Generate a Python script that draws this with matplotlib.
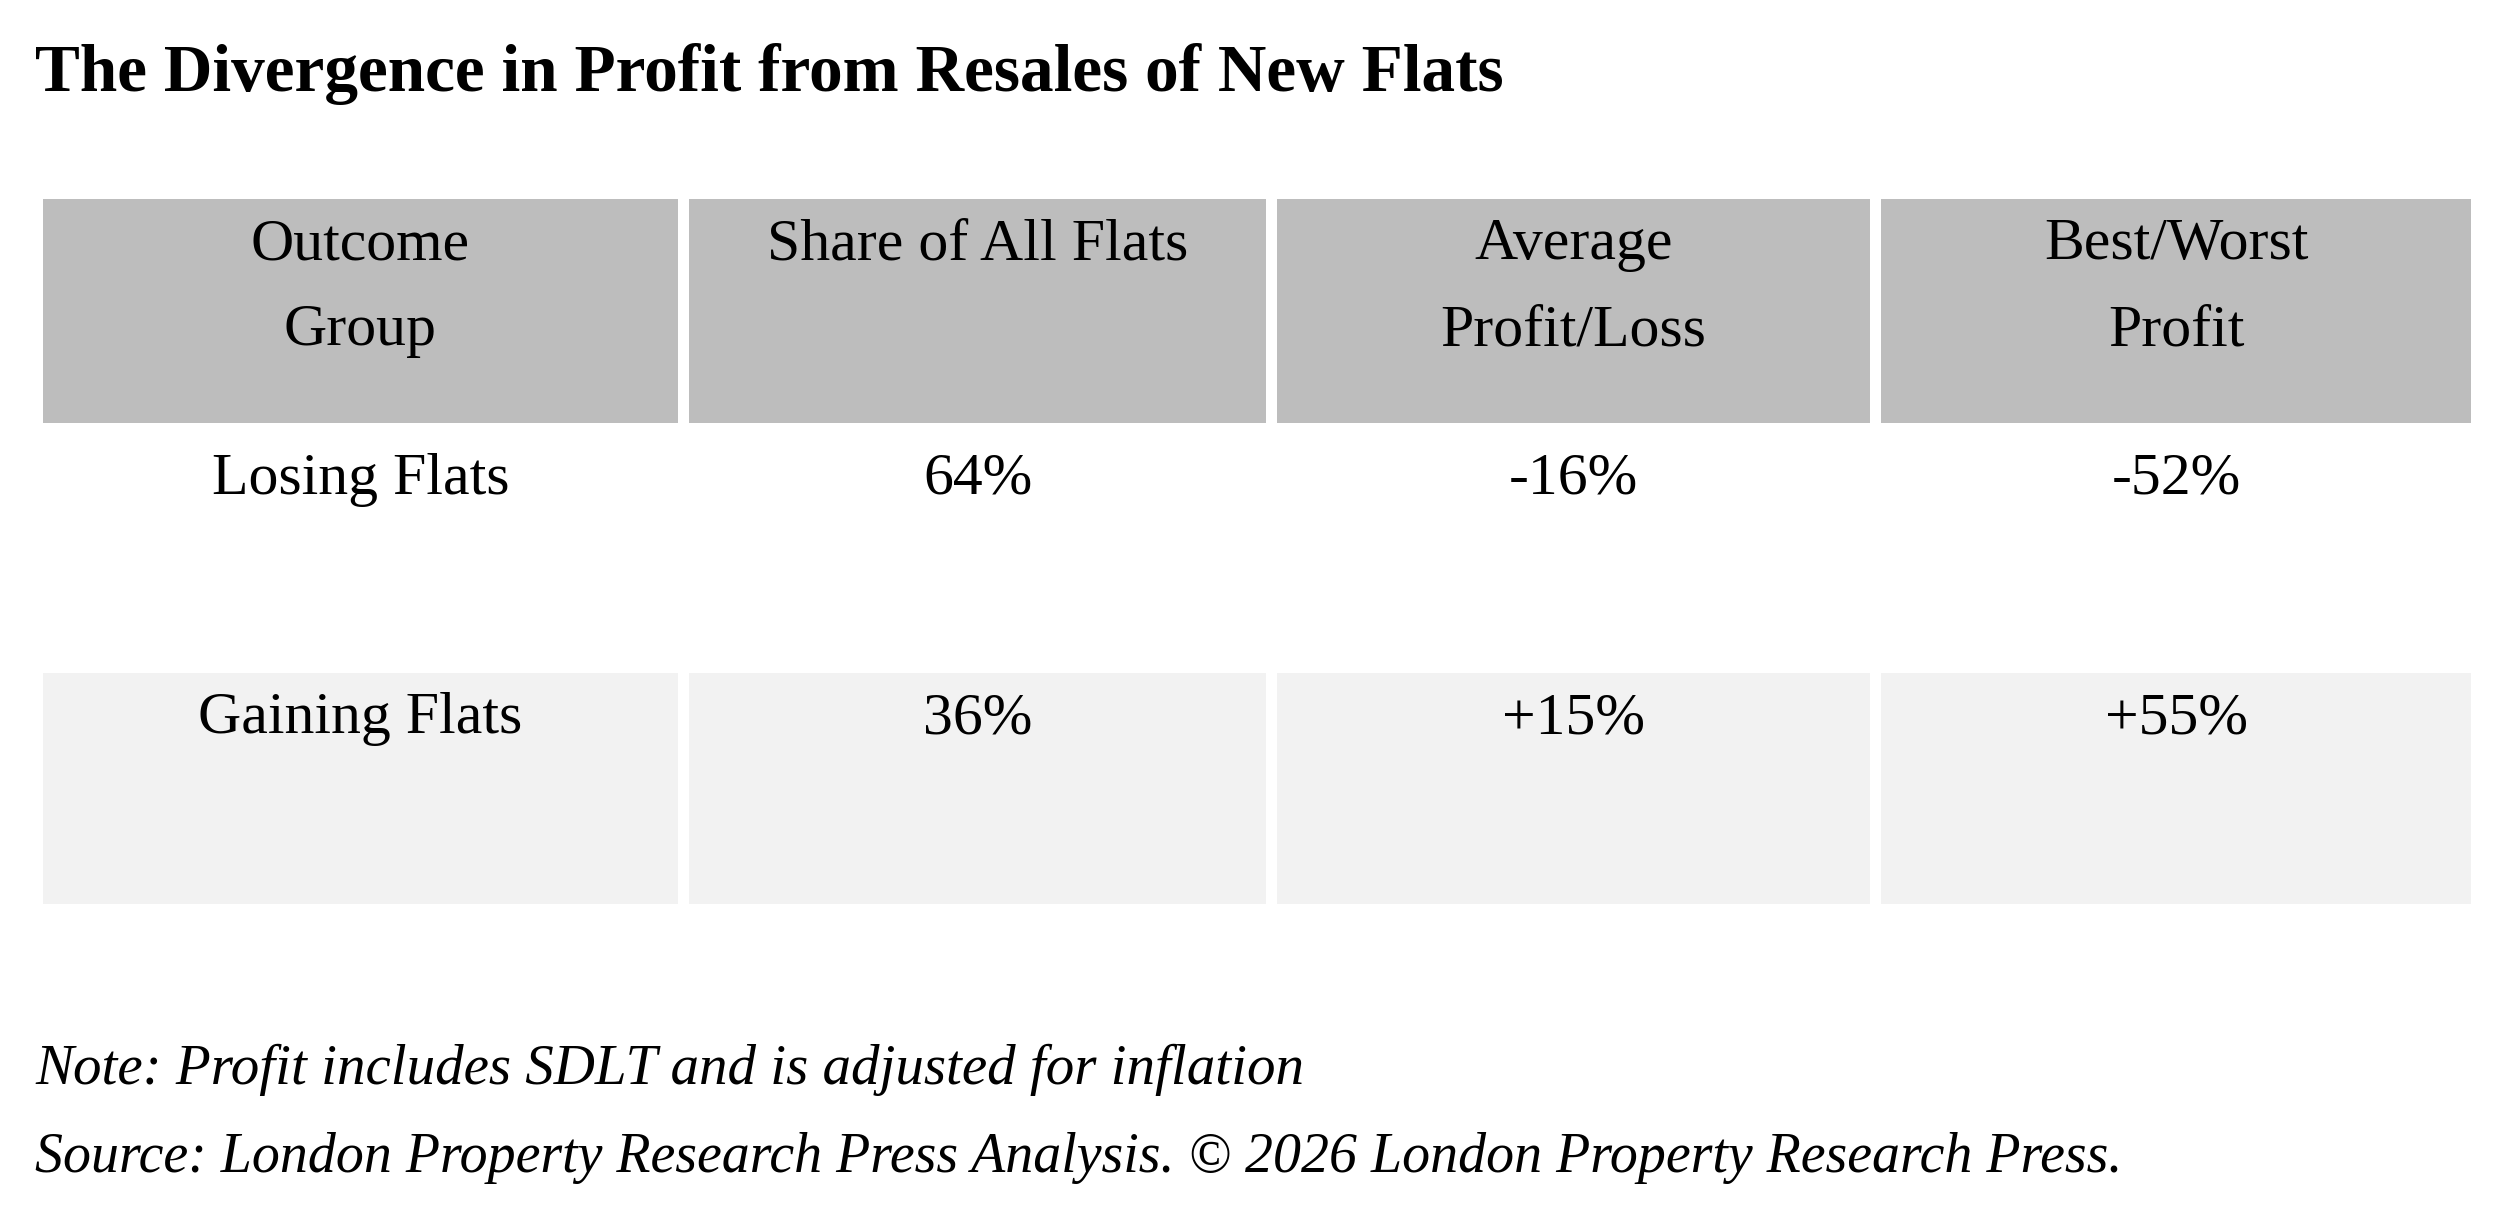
import matplotlib
matplotlib.use('Agg')
import matplotlib.pyplot as plt
from matplotlib.patches import Rectangle

# table content
headers = ['Outcome\nGroup', 'Share of All Flats', 'Average\nProfit/Loss', 'Best/Worst\nProfit']
groups = ['Losing Flats', 'Gaining Flats']
share = ['64%', '36%']
avg_profit = ['-16%', '+15%']
best_worst = ['-52%', '+55%']

title = 'The Divergence in Profit from Resales of New Flats'
note = 'Note: Profit includes SDLT and is adjusted for inflation'
source = 'Source: London Property Research Press Analysis. \u00a9 2026 London Property Research Press.'

# layout in pixels
col_left = [43, 689, 1277, 1881]
col_width = [635, 577, 593, 590]
row_top = [199, 434, 673]
row_height = [224, 229, 231]
row_color = ['#bdbdbd', '#ffffff', '#f2f2f2']
line_gap = 86
text_off = 60

plt.rcParams['font.family'] = ['Liberation Serif', 'DejaVu Serif']

fig = plt.figure(figsize=(25, 12.15), dpi=100)
ax = fig.add_axes([0, 0, 1, 1])
ax.set_xlim(0, 2500)
ax.set_ylim(1215, 0)
ax.axis('off')

rows = [headers] + [list(r) for r in zip(groups, share, avg_profit, best_worst)]

for i, row in enumerate(rows):
    for j, cell in enumerate(row):
        ax.add_patch(Rectangle((col_left[j], row_top[i]), col_width[j], row_height[i],
                               facecolor=row_color[i], edgecolor='none'))
        cx = col_left[j] + col_width[j] / 2
        for k, line in enumerate(cell.split('\n')):
            ax.text(cx, row_top[i] + text_off + k * line_gap, line, fontsize=43,
                    ha='center', va='baseline', color='black')

ax.text(35, 91, title, fontsize=48.4, fontweight='bold', ha='left', va='baseline')
ax.text(35, 1084, note, fontsize=41, style='italic', ha='left', va='baseline')
ax.text(35, 1172, source, fontsize=40.2, style='italic', ha='left', va='baseline')

fig.savefig('out.png', dpi=100)
